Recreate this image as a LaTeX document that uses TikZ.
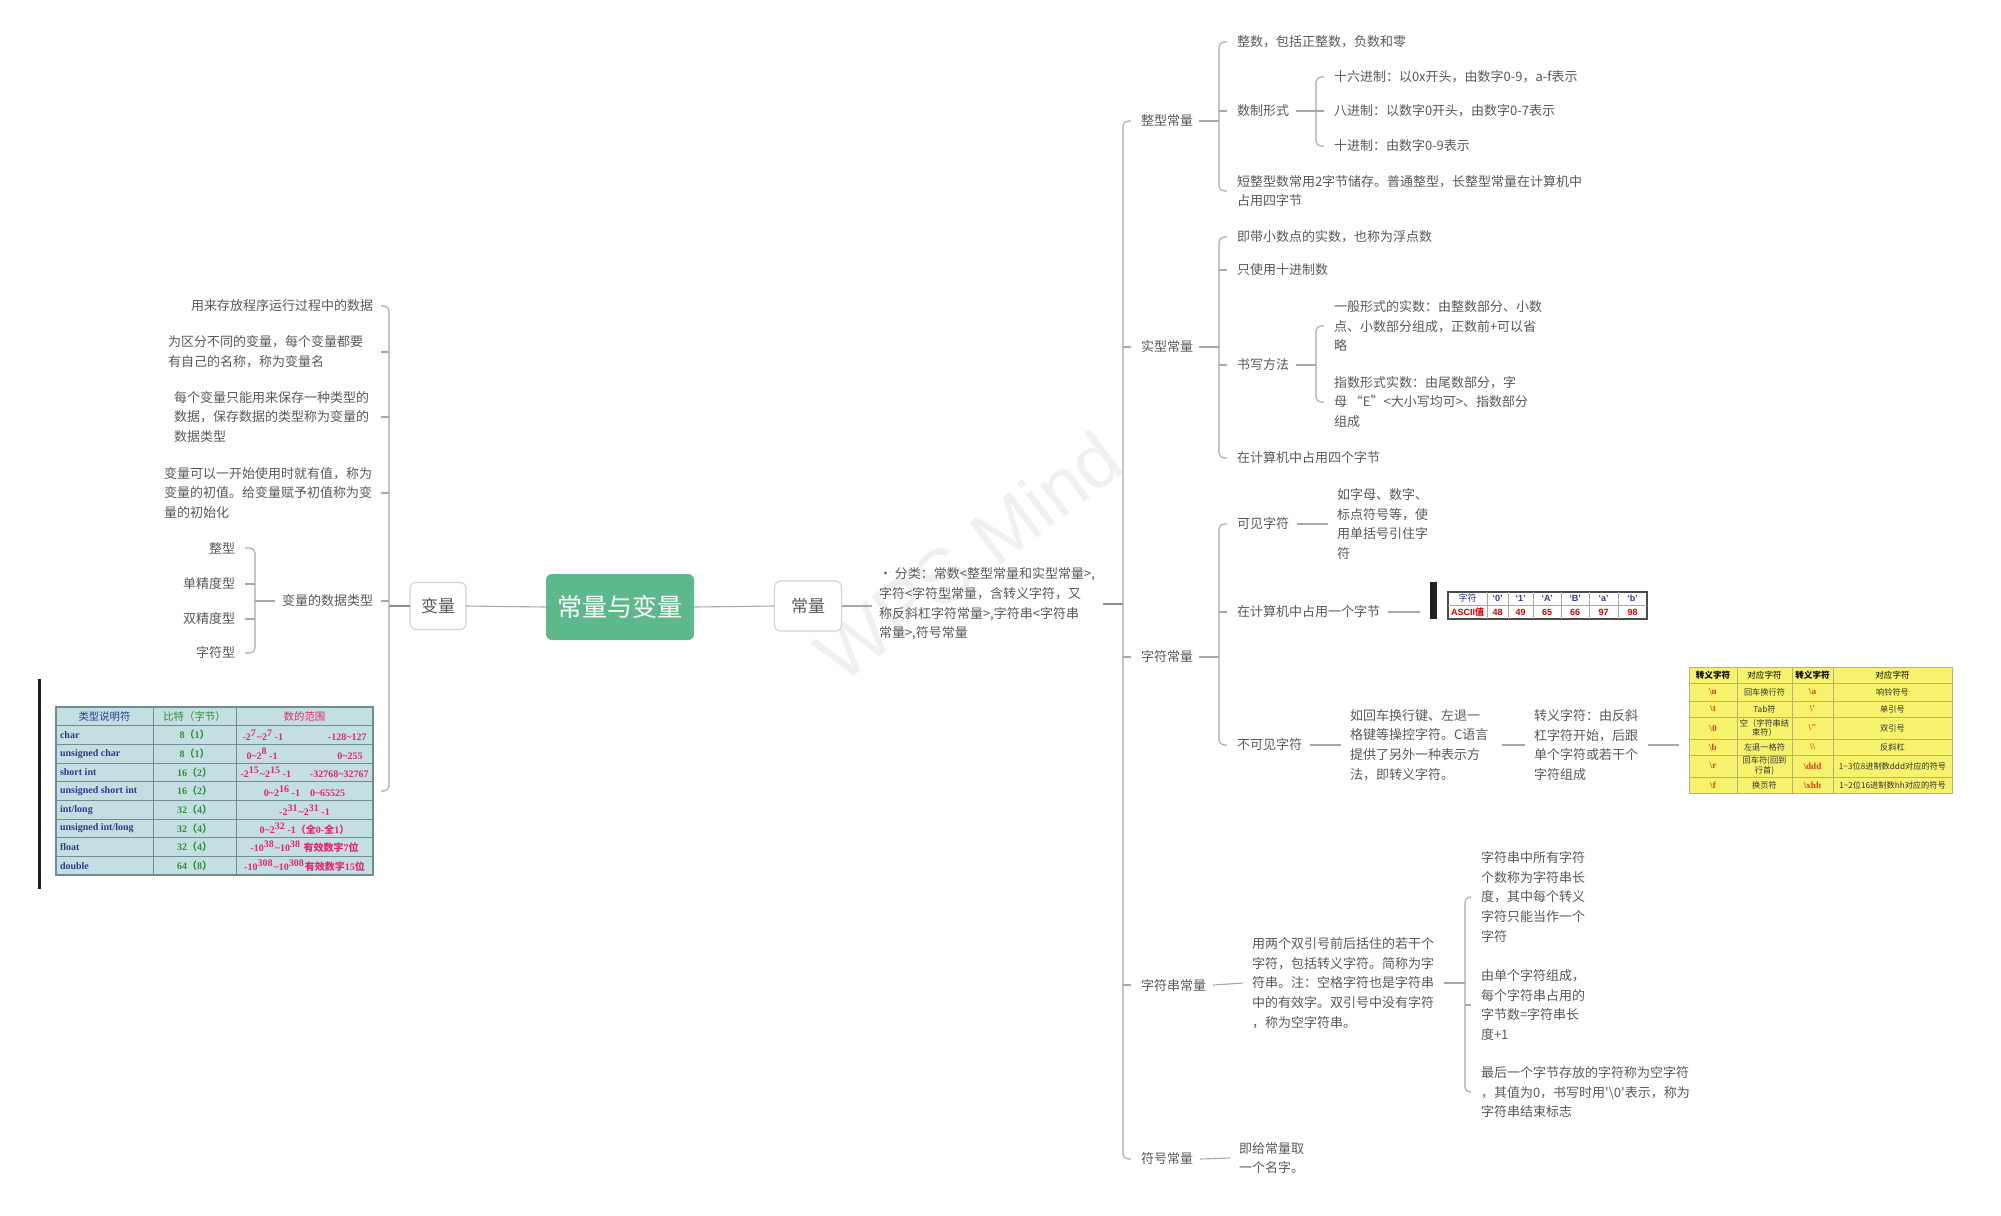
\documentclass[tikz,border=0pt]{standalone}
\usepackage{fontspec}
\setmainfont{Noto Sans CJK SC}
\newfontfamily\zhfont{Noto Sans CJK SC}
\newfontfamily\serf{Liberation Serif}
\newfontfamily\arialf{Liberation Sans}
\usetikzlibrary{calc}
\definecolor{txt}{HTML}{595959}
\definecolor{ln}{HTML}{A8A8A8}
\definecolor{lnd}{HTML}{8E8E8E}
\definecolor{topic}{HTML}{5DB98C}
\definecolor{boxbd}{HTML}{D4D4D4}
\definecolor{tbg}{HTML}{C3DFE2}
\definecolor{tgrid}{HTML}{6E8E93}
\definecolor{navy}{HTML}{2E3C8E}
\definecolor{tgreen}{HTML}{2F8F3A}
\definecolor{tmag}{HTML}{E5266F}
\definecolor{ybg}{HTML}{F6F26C}
\definecolor{ygrid}{HTML}{B5B08A}
\definecolor{yred}{HTML}{E2401E}
\definecolor{wm}{HTML}{F0F0F0}
\newcommand\tld{\textasciitilde}
\begin{document}
\begin{tikzpicture}[x=0.5pt,y=-0.5pt,
  every node/.style={inner sep=0pt,outer sep=0pt},
  tx/.style={font=\fontsize{6.5pt}{9.9pt}\selectfont,text=txt,align=left},
  tl/.style={tx,anchor=west},
  trt/.style={tx,anchor=east},
  conn/.style={draw=ln,line width=0.55pt},
  brk/.style={conn,rounded corners=2.5pt},
  trunk/.style={draw=lnd,line width=1.3pt},
  topicbox/.style={draw=boxbd,fill=white,line width=0.6pt,rounded corners=3pt,text=txt,font=\fontsize{8.5pt}{10pt}\selectfont},
  lc1/.style={font=\fontsize{5pt}{6pt}\selectfont\serf\bfseries,text=navy,anchor=west},
  lc2/.style={font=\fontsize{5pt}{6pt}\selectfont\serf\bfseries,text=tgreen},
  lc3/.style={font=\fontsize{5pt}{6pt}\selectfont\serf\bfseries,text=tmag},
  ah/.style={font=\fontsize{4.5pt}{5pt}\selectfont\arialf\bfseries,text=navy},
  ar/.style={font=\fontsize{4.5pt}{5pt}\selectfont\arialf\bfseries,text=red!85!black},
  yh/.style={font=\fontsize{4.3pt}{5pt}\selectfont,text=black},
  yr/.style={font=\fontsize{4.6pt}{5pt}\selectfont\serf\bfseries,text=yred},
  yt/.style={font=\fontsize{4.1pt}{4.8pt}\selectfont,text=black!80,align=center},
]
\fill[white] (0,0) rectangle (2001,1215);
\useasboundingbox (0,0) rectangle (2001,1215);

% watermark
\node[rotate=37,text=wm,font=\fontsize{38pt}{38pt}\selectfont\arialf] (wm1) at (968,556) {WPS Mind};

% ---------- centre ----------
\node[fill=topic,rounded corners=3pt,minimum width=74pt,minimum height=33pt,text=white,font=\fontsize{12.5pt}{14pt}\selectfont] (root) at (620,607) {常量与变量};
\node[topicbox,minimum width=28pt,minimum height=23.5pt] (bl) at (438,606) {变量};
\node[topicbox,minimum width=33.5pt,minimum height=25pt] (cl) at (808,606) {常量};
\draw[conn] (bl.east) -- (root.west);
\draw[conn] (root.east) -- (cl.west);

\node[tl] (cld) at (879,604) {• 分类：常数<整型常量和实型常量>,\\字符<字符型常量，含转义字符，又\\称反斜杠字符常量>,字符串<字符串\\常量>,符号常量};
\draw[conn] (cl.east) -- ($(cl.east -| cld.west)+(-7,0)$);

% ---------- right trunk ----------
\coordinate (bR1) at (1123,0);
\draw[trunk] ($(cld.east)+(8,0)$) -- (cld.east -| bR1);
\node[tl] (zx) at (1141,121) {整型常量};
\node[tl] (sx) at (1141,347) {实型常量};
\node[tl] (zf) at (1141,657) {字符常量};
\node[tl] (zc) at (1141,985) {字符串常量};
\node[tl] (fh) at (1141,1159) {符号常量};
\draw[brk] ($(zx.west)+(-10,0)$) -- (zx.west -| bR1) -- (fh.west -| bR1) -- ($(fh.west)+(-10,0)$);
\foreach \n in {sx,zf,zc} \draw[conn] (\n.west -| bR1) -- ($(\n.west)+(-10,0)$);

% ---------- 整型常量 ----------
\coordinate (bZ) at (1219,0);
\coordinate (bZ2) at (1316,0);
\node[tl] (z1) at (1237,42) {整数，包括正整数，负数和零};
\node[tl] (z2) at (1237,111) {数制形式};
\node[tl] (z3) at (1237,191) {短整型数常用2字节储存。普通整型，长整型常量在计算机中\\占用四字节};
\draw[conn] ($(zx.east)+(6,0)$) -- (zx.east -| bZ);
\draw[brk] ($(z1.west)+(-10,0)$) -- (z1.west -| bZ) -- (z3.west -| bZ) -- ($(z3.west)+(-10,0)$);
\draw[conn] (z2.west -| bZ) -- ($(z2.west)+(-10,0)$);
\node[tl] (z21) at (1334,77) {十六进制：以0x开头，由数字0-9，a-f表示};
\node[tl] (z22) at (1334,111) {八进制：以数字0开头，由数字0-7表示};
\node[tl] (z23) at (1334,146) {十进制：由数字0-9表示};
\draw[conn] ($(z2.east)+(7,0)$) -- (z2.east -| bZ2);
\draw[brk] ($(z21.west)+(-10,0)$) -- (z21.west -| bZ2) -- (z23.west -| bZ2) -- ($(z23.west)+(-10,0)$);
\draw[conn] (z22.west -| bZ2) -- ($(z22.west)+(-10,0)$);

% ---------- 实型常量 ----------
\node[tl] (s1) at (1237,237) {即带小数点的实数，也称为浮点数};
\node[tl] (s2) at (1237,270) {只使用十进制数};
\node[tl] (s3) at (1237,365) {书写方法};
\node[tl] (s4) at (1237,458) {在计算机中占用四个字节};
\draw[conn] ($(sx.east)+(6,0)$) -- (sx.east -| bZ);
\draw[brk] ($(s1.west)+(-10,0)$) -- (s1.west -| bZ) -- (s4.west -| bZ) -- ($(s4.west)+(-10,0)$);
\foreach \n in {s2,s3} \draw[conn] (\n.west -| bZ) -- ($(\n.west)+(-10,0)$);
\node[tl] (s31) at (1334,326) {一般形式的实数：由整数部分、小数\\点、小数部分组成，正数前+可以省\\略};
\node[tl] (s32) at (1334,402) {指数形式实数：由尾数部分，字\\母 “E”<大小写均可>、指数部分\\组成};
\draw[conn] ($(s3.east)+(7,0)$) -- (s3.east -| bZ2);
\draw[brk] ($(s31.west)+(-10,0)$) -- (s31.west -| bZ2) -- (s32.west -| bZ2) -- ($(s32.west)+(-10,0)$);

% ---------- 字符常量 ----------
\node[tl] (f1) at (1237,524) {可见字符};
\node[tl] (f2) at (1237,612) {在计算机中占用一个字节};
\node[tl] (f3) at (1237,745) {不可见字符};
\draw[conn] ($(zf.east)+(6,0)$) -- (zf.east -| bZ);
\draw[brk] ($(f1.west)+(-10,0)$) -- (f1.west -| bZ) -- (f3.west -| bZ) -- ($(f3.west)+(-10,0)$);
\draw[conn] (f2.west -| bZ) -- ($(f2.west)+(-10,0)$);
\node[tl] (f11) at (1337,524) {如字母、数字、\\标点符号等，使\\用单括号引住字\\符};
\draw[conn] ($(f1.east)+(8,0)$) -- ($(f11.west)+(-9,0)$);

\node[fill=black!88,minimum width=3.5pt,minimum height=18.5pt] (bar2) at (1433.5,600) {};
\draw[conn] ($(f2.east)+(8,0)$) -- ($(bar2.west |- f2.east)+(-10,0)$);

% ASCII table
\node[draw=black!70,line width=0.6pt,fill=white,minimum width=99.5pt,minimum height=13.5pt,anchor=north west] (asc) at (1448,592) {};
\draw[black!35,line width=0.4pt] (asc.west) -- (asc.east);
\foreach \x in {1487,1508,1533,1561,1589,1618} \draw[black!35,line width=0.4pt] (\x,592) -- (\x,619);
\node[font=\fontsize{4.5pt}{5pt}\selectfont,text=navy] (a0) at (1467.5,598.5) {字符};
\node[ah] (a1) at (1497.5,598.5) {‘0’};
\node[ah] (a2) at (1520.5,598.5) {‘1’};
\node[ah] (a3) at (1547,598.5) {‘A’};
\node[ah] (a4) at (1575,598.5) {‘B’};
\node[ah] (a5) at (1603.5,598.5) {‘a’};
\node[ah] (a6) at (1632.5,598.5) {‘b’};
\node[ar] (b0) at (1467.5,612) {ASCII{\zhfont 值}};
\node[ar] (b1) at (1497.5,612) {48};
\node[ar] (b2) at (1520.5,612) {49};
\node[ar] (b3) at (1547,612) {65};
\node[ar] (b4) at (1575,612) {66};
\node[ar] (b5) at (1603.5,612) {97};
\node[ar] (b6) at (1632.5,612) {98};

% invisible characters
\node[tl] (f31) at (1350,745) {如回车换行键、左退一\\格键等操控字符。C语言\\提供了另外一种表示方\\法，即转义字符。};
\node[tl] (f32) at (1534,745) {转义字符：由反斜\\杠字符开始，后跟\\单个字符或若干个\\字符组成};
\draw[conn] ($(f3.east)+(8,0)$) -- ($(f31.west)+(-9,0)$);
\draw[conn] ($(f31.east)+(14,0)$) -- ($(f32.west)+(-9,0)$);

% escape table
\node[fill=ybg,draw=ygrid,line width=0.5pt,minimum width=131.5pt,minimum height=63pt,anchor=north west] (esc) at (1689,667) {};
\draw[conn] ($(f32.east)+(10,0)$) -- ($(f32.east -| esc.west)+(-10,0)$);
\foreach \y in {683,701,717,739,755,777} \draw[ygrid,line width=0.5pt] (1689,\y) -- (1952,\y);
\foreach \x in {1737,1792,1833} \draw[ygrid,line width=0.5pt] (\x,667) -- (\x,793);
\node[yh,font=\fontsize{4.3pt}{5pt}\selectfont\bfseries] (e01) at (1713,675) {转义字符};
\node[yh] (e02) at (1764.5,675) {对应字符};
\node[yh,font=\fontsize{4.3pt}{5pt}\selectfont\bfseries] (e03) at (1812.5,675) {转义字符};
\node[yh] (e04) at (1892.5,675) {对应字符};
\node[yr] (e11) at (1713,692) {\textbackslash n};
\node[yt] (e12) at (1764.5,692) {回车换行符};
\node[yr] (e13) at (1812.5,692) {\textbackslash a};
\node[yt] (e14) at (1892.5,692) {响铃符号};
\node[yr] (e21) at (1713,709) {\textbackslash t};
\node[yt] (e22) at (1764.5,709) {Tab符};
\node[yr] (e23) at (1812.5,709) {\textbackslash\textquotesingle};
\node[yt] (e24) at (1892.5,709) {单引号};
\node[yr] (e31) at (1713,728) {\textbackslash 0};
\node[yt] (e32) at (1764.5,728) {空（字符串结\\束符）};
\node[yr] (e33) at (1812.5,728) {\textbackslash\textquotedbl};
\node[yt] (e34) at (1892.5,728) {双引号};
\node[yr] (e41) at (1713,747) {\textbackslash b};
\node[yt] (e42) at (1764.5,747) {左退一格符};
\node[yr] (e43) at (1812.5,747) {\textbackslash\textbackslash};
\node[yt] (e44) at (1892.5,747) {反斜杠};
\node[yr] (e51) at (1713,766) {\textbackslash r};
\node[yt] (e52) at (1764.5,766) {回车符(回到\\行首)};
\node[yr] (e53) at (1812.5,766) {\textbackslash ddd};
\node[yt] (e54) at (1892.5,766) {1\tld3位8进制数ddd对应的符号};
\node[yr] (e61) at (1713,785) {\textbackslash f};
\node[yt] (e62) at (1764.5,785) {换页符};
\node[yr] (e63) at (1812.5,785) {\textbackslash xhh};
\node[yt] (e64) at (1892.5,785) {1\tld2位16进制数hh对应的符号};

% ---------- 字符串常量 ----------
\node[tl] (zcd) at (1252,983) {用两个双引号前后括住的若干个\\字符，包括转义字符。简称为字\\符串。注：空格字符也是字符串\\中的有效字。双引号中没有字符\\，称为空字符串。};
\draw[conn] ($(zc.east)+(7,0)$) -- ($(zcd.west)+(-9,0)$);
\coordinate (bC) at (1465,0);
\node[tl] (c1) at (1481,897) {字符串中所有字符\\个数称为字符串长\\度，其中每个转义\\字符只能当作一个\\字符};
\node[tl] (c2) at (1481,1005) {由单个字符组成，\\每个字符串占用的\\字节数=字符串长\\度+1};
\node[tl] (c3) at (1481,1092) {最后一个字节存放的字符称为空字符\\，其值为0，书写时用\textquotesingle\textbackslash0\textquotesingle 表示，称为\\字符串结束标志};
\draw[conn] ($(zcd.east)+(10,0)$) -- (zcd.east -| bC);
\draw[brk] ($(c1.west)+(-10,0)$) -- (c1.west -| bC) -- (c3.west -| bC) -- ($(c3.west)+(-10,0)$);
\draw[conn] (c2.west -| bC) -- ($(c2.west)+(-10,0)$);

% ---------- 符号常量 ----------
\node[tl] (fhd) at (1239,1158) {即给常量取\\一个名字。};
\draw[conn] ($(fh.east)+(7,0)$) -- ($(fhd.west)+(-9,0)$);

% ---------- left side ----------
\coordinate (bL) at (389,0);
\draw[trunk] (bl.west) -- (bl.west -| bL);
\node[trt] (v1) at (373,306) {用来存放程序运行过程中的数据};
\node[tl] (v2) at (168,352) {为区分不同的变量，每个变量都要\\有自己的名称，称为变量名};
\node[tl] (v3) at (174,417) {每个变量只能用来保存一种类型的\\数据，保存数据的类型称为变量的\\数据类型};
\node[tl] (v4) at (164,493) {变量可以一开始使用时就有值，称为\\变量的初值。给变量赋予初值称为变\\量的初始化};
\node[trt] (v5) at (373,601) {变量的数据类型};
\node[fill=tbg,draw=tgrid,line width=0.7pt,minimum width=158.5pt,minimum height=84pt] (vt) at (214.5,791) {};
\draw[brk] ($(v1.east)+(8,0)$) -- (v1.east -| bL) -- (vt.east -| bL) -- ($(vt.east)+(8,0)$);
\foreach \n in {v2,v3,v4,v5} \draw[conn] (\n.east -| bL) -- ++(-8,0);

\coordinate (bT) at (255,0);
\node[trt] (t1) at (235,548) {整型};
\node[trt] (t2) at (235,584) {单精度型};
\node[trt] (t3) at (235,619) {双精度型};
\node[trt] (t4) at (235,653) {字符型};
\draw[conn] ($(v5.west)+(-7,0)$) -- (v5.west -| bT);
\draw[brk] ($(t1.east)+(10,0)$) -- (t1.east -| bT) -- (t4.east -| bT) -- ($(t4.east)+(10,0)$);
\foreach \n in {t2,t3} \draw[conn] (\n.east -| bT) -- ($(\n.east)+(10,0)$);

% left black bar
\node[fill=black!88,minimum width=1.5pt,minimum height=105pt] (bar1) at (39.5,784) {};

% data type table
\foreach \y in {725.67,744.33,763,781.67,800.33,819,837.67,856.33} \draw[tgrid,line width=0.45pt] (56,\y) -- (373,\y);
\foreach \x in {153,236} \draw[tgrid,line width=0.45pt] (\x,707) -- (\x,875);
\node[font=\fontsize{5.2pt}{6pt}\selectfont,text=navy] (th1) at (104.5,716.3) {类型说明符};
\node[font=\fontsize{5.2pt}{6pt}\selectfont,text=tgreen] (th2) at (194.5,716.3) {比特（字节）};
\node[font=\fontsize{5.2pt}{6pt}\selectfont,text=tmag] (th3) at (304.5,716.3) {数的范围};
\node[lc1] (r1a) at (60,735) {char};
\node[lc1] (r2a) at (60,753.7) {unsigned char};
\node[lc1] (r3a) at (60,772.3) {short int};
\node[lc1] (r4a) at (60,791) {unsigned short int};
\node[lc1] (r5a) at (60,809.7) {int/long};
\node[lc1] (r6a) at (60,828.3) {unsigned int/long};
\node[lc1] (r7a) at (60,847) {float};
\node[lc1] (r8a) at (60,865.7) {double};
\node[lc2] (r1b) at (194.5,735) {8{\zhfont （}1{\zhfont ）}};
\node[lc2] (r2b) at (194.5,753.7) {8{\zhfont （}1{\zhfont ）}};
\node[lc2] (r3b) at (194.5,772.3) {16{\zhfont （}2{\zhfont ）}};
\node[lc2] (r4b) at (194.5,791) {16{\zhfont （}2{\zhfont ）}};
\node[lc2] (r5b) at (194.5,809.7) {32{\zhfont （}4{\zhfont ）}};
\node[lc2] (r6b) at (194.5,828.3) {32{\zhfont （}4{\zhfont ）}};
\node[lc2] (r7b) at (194.5,847) {32{\zhfont （}4{\zhfont ）}};
\node[lc2] (r8b) at (194.5,865.7) {64{\zhfont （}8{\zhfont ）}};
\node[lc3] (r1c) at (304.5,735) {\makebox[62pt]{-2\textsuperscript{7}\tld2\textsuperscript{7}\,-1\hfill-128\tld127}};
\node[lc3] (r2c) at (304.5,753.7) {\makebox[58pt]{0\tld2\textsuperscript{8}\,-1\hfill0\tld255}};
\node[lc3] (r3c) at (304.5,772.3) {\makebox[64pt]{-2\textsuperscript{15}\tld2\textsuperscript{15}\,-1\hfill-32768\tld32767}};
\node[lc3] (r4c) at (304.5,791) {0\tld2\textsuperscript{16}\,-1\quad 0\tld65525};
\node[lc3] (r5c) at (304.5,809.7) {-2\textsuperscript{31}\tld2\textsuperscript{31}\,-1};
\node[lc3] (r6c) at (304.5,828.3) {0\tld2\textsuperscript{32}\,-1{\zhfont （全}0-{\zhfont 全}1{\zhfont ）}};
\node[lc3] (r7c) at (304.5,847) {-10\textsuperscript{38}\tld10\textsuperscript{38} {\zhfont 有效数字}7{\zhfont 位}};
\node[lc3] (r8c) at (304.5,865.7) {-10\textsuperscript{308}\tld10\textsuperscript{308}{\zhfont 有效数字}15{\zhfont 位}};
\end{tikzpicture}
\end{document}
